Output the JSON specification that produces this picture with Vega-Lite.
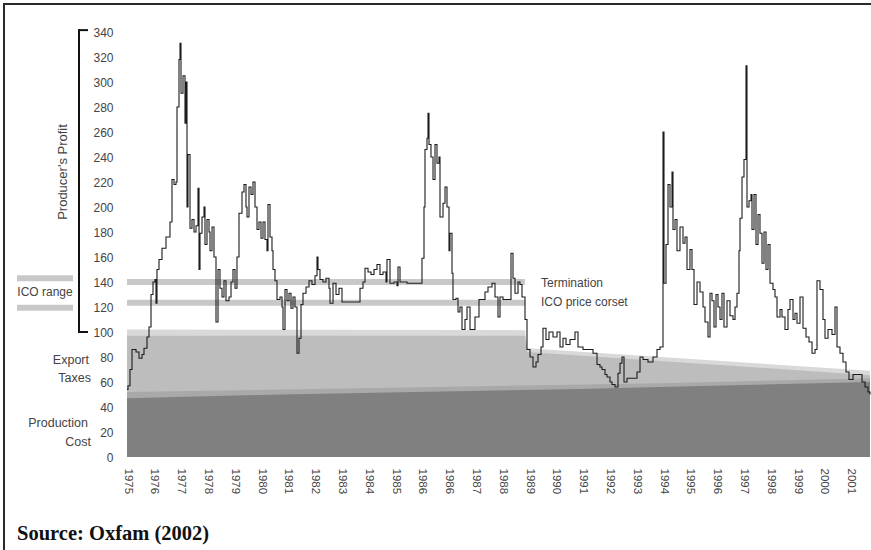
{
  "$schema": "https://vega.github.io/schema/vega-lite/v6.json",
  "width": 871,
  "height": 550,
  "autosize": {"type": "none"},
  "padding": {"left": 4, "top": 4, "right": -4, "bottom": -4},
  "background": "white",
  "config": {
    "view": {"stroke": "#2a2a2a", "strokeWidth": 2},
    "font": "Liberation Sans",
    "axis": {"labelOverlap": false, "labelFlush": false, "labelBound": false, "ticks": false, "tickSize": 0, "domain": false, "grid": false, "labelPadding": 0, "tickCount": 200}
  },
  "datasets": {
    "price": [
      {"year":1975.000,"v":54},{"year":1975.037,"v":57},{"year":1975.112,"v":70},{"year":1975.187,"v":86},{"year":1975.336,"v":84},{"year":1975.448,"v":79},{"year":1975.560,"v":82},{"year":1975.634,"v":87},{"year":1975.746,"v":96},{"year":1975.821,"v":104},{"year":1975.896,"v":130},{"year":1975.970,"v":140},{"year":1976.045,"v":142},{"year":1976.082,"v":123},{"year":1976.119,"v":150},{"year":1976.194,"v":158},{"year":1976.306,"v":167},{"year":1976.455,"v":176},{"year":1976.604,"v":188},{"year":1976.679,"v":222},{"year":1976.754,"v":218},{"year":1976.828,"v":220},{"year":1976.866,"v":280},{"year":1976.940,"v":318},{"year":1976.978,"v":331},{"year":1977.015,"v":291},{"year":1977.090,"v":305},{"year":1977.164,"v":267},{"year":1977.201,"v":300},{"year":1977.239,"v":200},{"year":1977.276,"v":242},{"year":1977.351,"v":183},{"year":1977.425,"v":190},{"year":1977.500,"v":180},{"year":1977.575,"v":185},{"year":1977.649,"v":215},{"year":1977.687,"v":150},{"year":1977.724,"v":179},{"year":1977.799,"v":192},{"year":1977.873,"v":200},{"year":1977.910,"v":170},{"year":1977.985,"v":190},{"year":1978.060,"v":180},{"year":1978.097,"v":165},{"year":1978.172,"v":184},{"year":1978.246,"v":160},{"year":1978.321,"v":108},{"year":1978.396,"v":150},{"year":1978.470,"v":135},{"year":1978.545,"v":128},{"year":1978.619,"v":141},{"year":1978.694,"v":125},{"year":1978.806,"v":128},{"year":1978.881,"v":140},{"year":1978.955,"v":150},{"year":1979.030,"v":135},{"year":1979.104,"v":160},{"year":1979.179,"v":195},{"year":1979.291,"v":212},{"year":1979.366,"v":218},{"year":1979.440,"v":200},{"year":1979.478,"v":192},{"year":1979.552,"v":216},{"year":1979.627,"v":210},{"year":1979.701,"v":220},{"year":1979.776,"v":200},{"year":1979.851,"v":182},{"year":1979.925,"v":188},{"year":1980.000,"v":175},{"year":1980.075,"v":188},{"year":1980.149,"v":174},{"year":1980.224,"v":165},{"year":1980.261,"v":202},{"year":1980.336,"v":176},{"year":1980.410,"v":165},{"year":1980.448,"v":150},{"year":1980.522,"v":141},{"year":1980.597,"v":126},{"year":1980.709,"v":128},{"year":1980.784,"v":120},{"year":1980.821,"v":102},{"year":1980.896,"v":134},{"year":1980.970,"v":125},{"year":1981.045,"v":131},{"year":1981.119,"v":119},{"year":1981.194,"v":128},{"year":1981.269,"v":120},{"year":1981.343,"v":83},{"year":1981.418,"v":95},{"year":1981.493,"v":122},{"year":1981.567,"v":131},{"year":1981.679,"v":136},{"year":1981.791,"v":141},{"year":1981.903,"v":138},{"year":1982.015,"v":145},{"year":1982.090,"v":160},{"year":1982.127,"v":150},{"year":1982.201,"v":142},{"year":1982.313,"v":140},{"year":1982.425,"v":143},{"year":1982.537,"v":135},{"year":1982.575,"v":123},{"year":1982.687,"v":139},{"year":1982.799,"v":130},{"year":1982.910,"v":135},{"year":1983.022,"v":124},{"year":1983.619,"v":124},{"year":1983.694,"v":135},{"year":1983.806,"v":140},{"year":1983.881,"v":151},{"year":1983.993,"v":148},{"year":1984.104,"v":146},{"year":1984.216,"v":150},{"year":1984.328,"v":154},{"year":1984.440,"v":146},{"year":1984.552,"v":148},{"year":1984.664,"v":140},{"year":1984.701,"v":158},{"year":1984.813,"v":139},{"year":1984.963,"v":140},{"year":1985.075,"v":137},{"year":1985.112,"v":152},{"year":1985.187,"v":140},{"year":1985.448,"v":139},{"year":1985.933,"v":139},{"year":1986.007,"v":159},{"year":1986.082,"v":200},{"year":1986.119,"v":246},{"year":1986.194,"v":255},{"year":1986.231,"v":275},{"year":1986.269,"v":250},{"year":1986.343,"v":240},{"year":1986.418,"v":222},{"year":1986.493,"v":250},{"year":1986.567,"v":235},{"year":1986.642,"v":240},{"year":1986.679,"v":192},{"year":1986.791,"v":203},{"year":1986.866,"v":216},{"year":1986.940,"v":200},{"year":1987.015,"v":165},{"year":1987.052,"v":179},{"year":1987.127,"v":147},{"year":1987.164,"v":126},{"year":1987.276,"v":127},{"year":1987.351,"v":116},{"year":1987.425,"v":120},{"year":1987.500,"v":102},{"year":1987.612,"v":110},{"year":1987.687,"v":120},{"year":1987.799,"v":102},{"year":1987.985,"v":112},{"year":1988.134,"v":126},{"year":1988.358,"v":132},{"year":1988.470,"v":136},{"year":1988.619,"v":139},{"year":1988.731,"v":128},{"year":1988.843,"v":112},{"year":1988.918,"v":128},{"year":1989.030,"v":126},{"year":1989.328,"v":163},{"year":1989.403,"v":143},{"year":1989.478,"v":131},{"year":1989.590,"v":140},{"year":1989.664,"v":138},{"year":1989.739,"v":128},{"year":1989.851,"v":110},{"year":1989.925,"v":86},{"year":1990.037,"v":80},{"year":1990.149,"v":72},{"year":1990.261,"v":76},{"year":1990.336,"v":82},{"year":1990.448,"v":88},{"year":1990.522,"v":103},{"year":1990.634,"v":94},{"year":1990.746,"v":100},{"year":1990.896,"v":96},{"year":1991.045,"v":100},{"year":1991.157,"v":88},{"year":1991.269,"v":95},{"year":1991.381,"v":90},{"year":1991.530,"v":94},{"year":1991.716,"v":100},{"year":1991.828,"v":88},{"year":1992.015,"v":86},{"year":1992.388,"v":83},{"year":1992.537,"v":74},{"year":1992.649,"v":72},{"year":1992.724,"v":70},{"year":1992.836,"v":66},{"year":1992.910,"v":64},{"year":1993.022,"v":60},{"year":1993.097,"v":58},{"year":1993.209,"v":56},{"year":1993.321,"v":67},{"year":1993.396,"v":75},{"year":1993.470,"v":80},{"year":1993.545,"v":60},{"year":1993.657,"v":63},{"year":1994.030,"v":68},{"year":1994.142,"v":80},{"year":1994.254,"v":78},{"year":1994.440,"v":76},{"year":1994.627,"v":80},{"year":1994.776,"v":86},{"year":1994.888,"v":88},{"year":1995.000,"v":260},{"year":1995.037,"v":139},{"year":1995.112,"v":170},{"year":1995.187,"v":218},{"year":1995.261,"v":200},{"year":1995.336,"v":228},{"year":1995.373,"v":182},{"year":1995.448,"v":190},{"year":1995.522,"v":165},{"year":1995.634,"v":184},{"year":1995.746,"v":171},{"year":1995.821,"v":176},{"year":1995.896,"v":150},{"year":1996.007,"v":166},{"year":1996.082,"v":150},{"year":1996.157,"v":122},{"year":1996.269,"v":140},{"year":1996.381,"v":132},{"year":1996.493,"v":120},{"year":1996.567,"v":108},{"year":1996.679,"v":96},{"year":1996.754,"v":131},{"year":1996.828,"v":125},{"year":1996.903,"v":104},{"year":1996.978,"v":130},{"year":1997.052,"v":120},{"year":1997.127,"v":110},{"year":1997.201,"v":131},{"year":1997.276,"v":104},{"year":1997.388,"v":125},{"year":1997.500,"v":113},{"year":1997.612,"v":110},{"year":1997.687,"v":120},{"year":1997.761,"v":131},{"year":1997.836,"v":165},{"year":1997.873,"v":191},{"year":1997.948,"v":224},{"year":1998.022,"v":238},{"year":1998.097,"v":313},{"year":1998.134,"v":200},{"year":1998.209,"v":205},{"year":1998.284,"v":210},{"year":1998.321,"v":182},{"year":1998.396,"v":210},{"year":1998.470,"v":170},{"year":1998.545,"v":194},{"year":1998.619,"v":179},{"year":1998.694,"v":155},{"year":1998.769,"v":180},{"year":1998.843,"v":150},{"year":1998.918,"v":170},{"year":1998.993,"v":139},{"year":1999.104,"v":134},{"year":1999.179,"v":128},{"year":1999.254,"v":112},{"year":1999.366,"v":118},{"year":1999.440,"v":112},{"year":1999.552,"v":102},{"year":1999.664,"v":118},{"year":1999.739,"v":126},{"year":1999.851,"v":110},{"year":1999.925,"v":115},{"year":2000.000,"v":107},{"year":2000.112,"v":128},{"year":2000.224,"v":103},{"year":2000.336,"v":96},{"year":2000.448,"v":92},{"year":2000.560,"v":83},{"year":2000.672,"v":86},{"year":2000.746,"v":141},{"year":2000.858,"v":134},{"year":2000.970,"v":110},{"year":2001.045,"v":95},{"year":2001.157,"v":102},{"year":2001.306,"v":98},{"year":2001.418,"v":120},{"year":2001.493,"v":88},{"year":2001.604,"v":83},{"year":2001.716,"v":76},{"year":2001.828,"v":68},{"year":2001.940,"v":62},{"year":2002.090,"v":66},{"year":2002.276,"v":66},{"year":2002.425,"v":60},{"year":2002.537,"v":56},{"year":2002.649,"v":52},{"year":2002.724,"v":50}
    ],
    "bands": [
      {"band":"other","year":1975.0,"top":102},{"band":"other","year":1989.85,"top":101.5},{"band":"other","year":1989.93,"top":87},{"band":"other","year":2002.724,"top":69},
      {"band":"taxes","year":1975.0,"top":97},{"band":"taxes","year":1989.85,"top":97},{"band":"taxes","year":1989.93,"top":84},{"band":"taxes","year":2002.724,"top":65.5},
      {"band":"transport","year":1975.0,"top":52},{"band":"transport","year":1994.9,"top":59},{"band":"transport","year":2002.724,"top":63},
      {"band":"cost","year":1975.0,"top":47},{"band":"cost","year":1980.709,"top":50},{"band":"cost","year":1991.9,"top":54.5},{"band":"cost","year":1994.888,"top":56},{"band":"cost","year":2002.724,"top":60}
    ],
    "ico": [
      {"x":1975.0,"x2":1989.85,"v":140},
      {"x":1975.0,"x2":1989.85,"v":123.5},
      {"x":1970.896,"x2":1972.985,"v":143},
      {"x":1970.896,"x2":1972.985,"v":119.5}
    ],
    "bracket": [
      {"x":1973.209,"x2":1973.209,"y":100,"y2":341.5},
      {"x":1973.209,"x2":1973.507,"y":341.5,"y2":341.5},
      {"x":1973.209,"x2":1973.507,"y":100,"y2":100}
    ]
  },
  "layer": [
    {
      "data": {"name": "bands"},
      "transform": [{"filter": "datum.band === 'other'"}],
      "mark": {"type": "area", "color": "#d9d9d9"},
      "encoding": {
        "x": {"field": "year", "type": "quantitative", "scale": {"domain": [1970.4104, 2002.9104], "nice": false, "zero": false},
              "axis": {"orient": "bottom", "offset": -86, "tickCount": 200, "values": [1975,1976,1977,1978,1979,1980,1981,1982,1983,1984,1985,1986,1987,1988,1989,1990,1991,1992,1993,1994,1995,1996,1997,1998,1999,2000,2001,2002],
                       "labelExpr": "['1975','1976','1977','1978','1979','1980','1981','1982','1983','1984','1985','1986','1986','1987','1988','1989','1990','1991','1992','1993','1994','1995','1996','1997','1998','1999','2000','2001'][round(datum.value - 1975)]",
                       "labelAngle": 90, "labelPadding": 0, "title": null, "labelOverlap": false,
                       "labelFontSize": 11.5, "labelColor": "#444444", "labelFont": "Liberation Sans"}},
        "y": {"field": "top", "type": "quantitative", "scale": {"domain": [-77.6, 362.4], "nice": false, "zero": false},
              "axis": {"orient": "left", "offset": -109, "tickCount": 200, "values": [0,20,40,60,80,100,120,140,160,180,200,220,240,260,280,300,320,340],
                       "labelPadding": 0, "title": null, "labelOverlap": false,
                       "labelFontSize": 12, "labelColor": "#444444", "labelFont": "Liberation Sans"}},
        "y2": {"datum": 0}
      }
    },
    {
      "data": {"name": "bands"},
      "transform": [{"filter": "datum.band === 'taxes'"}],
      "mark": {"type": "area", "color": "#bdbdbd"},
      "encoding": {"x": {"field": "year", "type": "quantitative"}, "y": {"field": "top", "type": "quantitative"}, "y2": {"datum": 0}}
    },
    {
      "data": {"name": "bands"},
      "transform": [{"filter": "datum.band === 'transport'"}],
      "mark": {"type": "area", "color": "#a9a9a9"},
      "encoding": {"x": {"field": "year", "type": "quantitative"}, "y": {"field": "top", "type": "quantitative"}, "y2": {"datum": 0}}
    },
    {
      "data": {"name": "bands"},
      "transform": [{"filter": "datum.band === 'cost'"}],
      "mark": {"type": "area", "color": "#808080"},
      "encoding": {"x": {"field": "year", "type": "quantitative"}, "y": {"field": "top", "type": "quantitative"}, "y2": {"datum": 0}}
    },
    {
      "data": {"name": "ico"},
      "mark": {"type": "rule", "color": "#c8c8c8", "strokeWidth": 6},
      "encoding": {"x": {"field": "x", "type": "quantitative"}, "x2": {"field": "x2"}, "y": {"field": "v", "type": "quantitative"}}
    },
    {
      "data": {"name": "bracket"},
      "mark": {"type": "rule", "color": "#111111", "strokeWidth": 2, "strokeCap": "square"},
      "encoding": {"x": {"field": "x", "type": "quantitative"}, "x2": {"field": "x2"}, "y": {"field": "y", "type": "quantitative"}, "y2": {"field": "y2"}}
    },
    {
      "data": {"name": "price"},
      "mark": {"type": "line", "interpolate": "step-after", "color": "#1c1c1c", "strokeWidth": 1.1},
      "encoding": {"x": {"field": "year", "type": "quantitative"}, "y": {"field": "v", "type": "quantitative"}}
    },
    {
      "data": {"values": [
        {"label":"Export","year":1973.582,"v":77.6},
        {"label":"Taxes","year":1973.657,"v":63.2},
        {"label":"Production","year":1973.545,"v":27.2},
        {"label":"Cost","year":1973.657,"v":12}
      ]},
      "mark": {"type": "text", "align": "right", "baseline": "middle", "fontSize": 12.5, "color": "#444444", "font": "Liberation Sans"},
      "encoding": {"x": {"field": "year", "type": "quantitative"}, "y": {"field": "v", "type": "quantitative"}, "text": {"field": "label"}}
    },
    {
      "data": {"values": [
        {"label":"Termination","year":1990.448,"v":139.2},
        {"label":"ICO price corset","year":1990.448,"v":124}
      ]},
      "mark": {"type": "text", "align": "left", "baseline": "middle", "fontSize": 12, "color": "#444444", "font": "Liberation Sans"},
      "encoding": {"x": {"field": "year", "type": "quantitative"}, "y": {"field": "v", "type": "quantitative"}, "text": {"field": "label"}}
    },
    {
      "data": {"values": [{"label":"ICO range","year":1971.94,"v":132}]},
      "mark": {"type": "text", "align": "center", "baseline": "middle", "fontSize": 12, "color": "#444444", "font": "Liberation Sans"},
      "encoding": {"x": {"field": "year", "type": "quantitative"}, "y": {"field": "v", "type": "quantitative"}, "text": {"field": "label"}}
    },
    {
      "data": {"values": [{"label":"Producer's Profit","year":1972.612,"v":228}]},
      "mark": {"type": "text", "align": "center", "baseline": "middle", "angle": 270, "fontSize": 13, "color": "#444444", "font": "Liberation Sans"},
      "encoding": {"x": {"field": "year", "type": "quantitative"}, "y": {"field": "v", "type": "quantitative"}, "text": {"field": "label"}}
    },
    {
      "data": {"values": [{"label":"Source: Oxfam (2002)","year":1970.896,"v":-66.4}]},
      "mark": {"type": "text", "align": "left", "baseline": "alphabetic", "fontSize": 20.5, "fontWeight": "bold", "color": "#111111", "font": "Liberation Serif"},
      "encoding": {"x": {"field": "year", "type": "quantitative"}, "y": {"field": "v", "type": "quantitative"}, "text": {"field": "label"}}
    }
  ]
}
